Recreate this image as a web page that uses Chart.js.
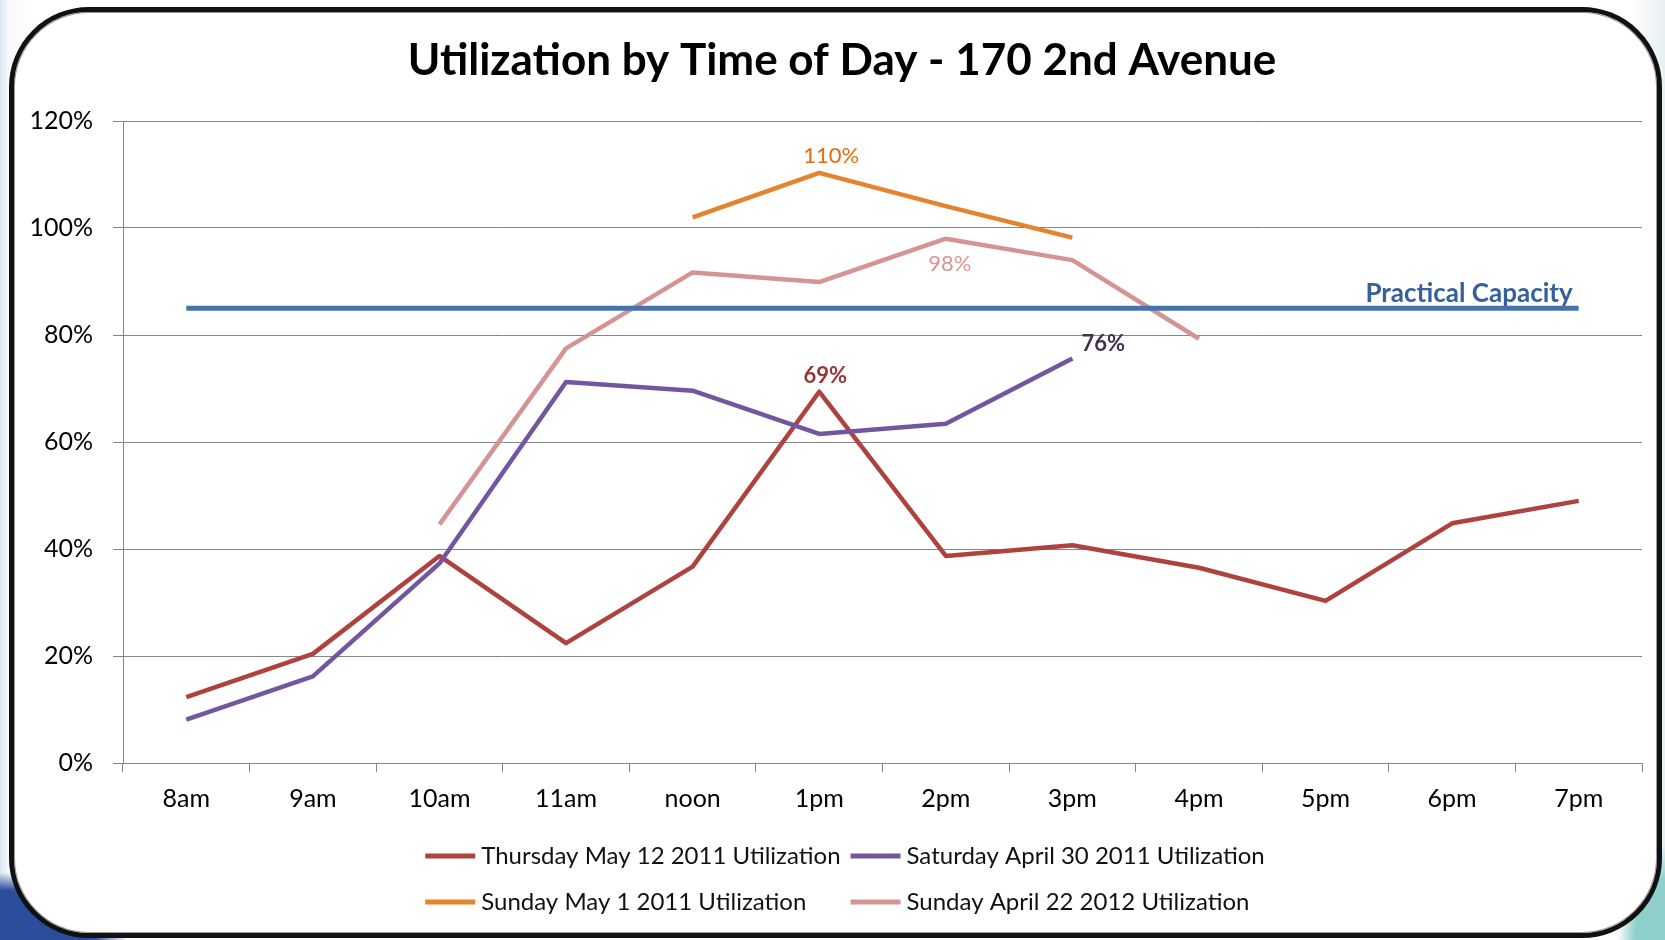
<!DOCTYPE html>
<html>
<head>
<meta charset="utf-8">
<script src="https://cdn.jsdelivr.net/npm/chart.js@4.4.1/dist/chart.umd.min.js"></script>
<style>
html,body{margin:0;padding:0;}
body{width:1665px;height:940px;position:relative;overflow:hidden;
  background:
    radial-gradient(ellipse 170px 90px at 0% 100%,#2a4d9c 0,#2a4d9c 55%,rgba(42,77,156,0) 75%),
    radial-gradient(ellipse 60px 120px at 100% 100%,#8fd0cc 0,#8fd0cc 50%,rgba(143,208,204,0) 80%),
    linear-gradient(90deg,#dce6f0 0,#f7f9fc 9px,#fff 30px,#fff 1630px,#e8f0f4 100%);}
#frame{position:absolute;left:9px;top:7px;width:1643px;height:921px;border:5px solid #111;border-radius:80px;background:#fff;box-shadow:inset 0 0 0 1px #9a9a9a;}
#c{position:absolute;left:0;top:0;}
</style>
</head>
<body>
<div id="frame"></div>
<canvas id="c" width="1665" height="940"></canvas>
<script>
// valores (em %)
const hours=['8am','9am','10am','11am','noon','1pm','2pm','3pm','4pm','5pm','6pm','7pm'];
const thursdayMay12=[12.3,20.4,38.7,22.4,36.7,69.4,38.7,40.7,36.5,30.3,44.8,49.0];
const saturdayApr30=[8.1,16.2,37.3,71.2,69.6,61.5,63.4,75.6,null,null,null,null];
const sundayMay1=[null,null,null,null,102.0,110.3,104.1,98.2,null,null,null,null];
const sundayApr22=[null,null,44.6,77.5,91.7,89.9,98.0,94.0,79.3,null,null,null];
const practicalCapacity=[85,85,85,85,85,85,85,85,85,85,85,85];
const yMin=0, yMax=120, yStep=20;

const TITLE='Utilization by Time of Day - 170 2nd Avenue';
const FONT='Lato';

// rótulos de dados: dataset, ponto, cor, deslocamento
const dataLabels=[
  {ds:1,i:5,color:'#953735',dx:6,dy:-16,bold:true},
  {ds:2,i:7,color:'#3F3151',dx:31,dy:-15,bold:true},
  {ds:3,i:5,color:'#E46C0A',dx:12,dy:-17,bold:false},
  {ds:4,i:6,color:'#D99694',dx:4,dy:25,bold:false},
];

// título desenhado à mão: o plugin de título centraliza pela largura do layout
const titlePlugin={id:'titlePlugin',afterDraw(ch){
  const ctx=ch.ctx;
  ctx.save();
  ctx.font='bold 44px '+FONT;
  ctx.fillStyle='#000';ctx.textAlign='center';ctx.textBaseline='middle';
  ctx.fillText(TITLE,842,61);
  ctx.restore();
}};

const labelPlugin={id:'labelPlugin',afterDatasetsDraw(ch){
  const ctx=ch.ctx;
  ctx.save();
  ctx.textAlign='center';ctx.textBaseline='middle';
  dataLabels.forEach(l=>{
    const p=ch.getDatasetMeta(l.ds).data[l.i];
    const v=ch.data.datasets[l.ds].data[l.i];
    ctx.font=(l.bold?'bold ':'')+'22px '+FONT;
    ctx.fillStyle=l.color;
    ctx.fillText(Math.round(v)+'%',p.x+l.dx,p.y+l.dy);
  });
  // rótulo da capacidade prática no fim da linha
  const cap=ch.getDatasetMeta(0).data;
  const last=cap[cap.length-1];
  ctx.font='bold 26px '+FONT;
  ctx.fillStyle='#35609A';
  ctx.textAlign='right';
  ctx.fillText('Practical Capacity',last.x-6,last.y-15);
  ctx.restore();
}};

// legenda em grade (2 colunas alinhadas)
const gridLegend={id:'gridLegend',afterDraw(ch){
  const {ctx,chartArea}=ch;
  const items=ch.data.datasets.filter(d=>!d.noLegend);
  ctx.save();
  ctx.font='24px '+FONT;
  const lineLen=50,gap=6,colGap=10;
  const w=k=>ctx.measureText(items[k].label).width;
  const col1=Math.max(w(0),w(2)), col2=Math.max(w(1),w(3));
  const total=lineLen+gap+col1+colGap+lineLen+gap+col2;
  const x0=845-total/2, x1=x0+lineLen+gap+col1+colGap;
  const rows=[chartArea.bottom+93,chartArea.bottom+139];
  items.forEach((d,k)=>{
    const x=k%2?x1:x0, y=rows[Math.floor(k/2)];
    ctx.strokeStyle=d.borderColor;ctx.lineWidth=5;ctx.lineCap='butt';
    ctx.beginPath();ctx.moveTo(x,y);ctx.lineTo(x+lineLen,y);ctx.stroke();
    ctx.fillStyle='#111';ctx.textAlign='left';ctx.textBaseline='middle';
    ctx.fillText(d.label,x+lineLen+gap,y);
  });
  ctx.restore();
}};

new Chart(document.getElementById('c'),{
  type:'line',
  data:{labels:hours,datasets:[
    {label:'Practical Capacity',data:practicalCapacity,borderColor:'#4672AE',borderWidth:5,order:0,noLegend:true},
    {label:'Thursday May 12 2011 Utilization',data:thursdayMay12,borderColor:'#AD423F',order:2},
    {label:'Saturday April 30 2011 Utilization',data:saturdayApr30,borderColor:'#7356A0',order:1},
    {label:'Sunday May 1 2011 Utilization',data:sundayMay1,borderColor:'#E4842F',order:1},
    {label:'Sunday April 22 2012 Utilization',data:sundayApr22,borderColor:'#D59494',order:1},
  ]},
  options:{
    responsive:false,animation:false,
    layout:{padding:{left:28,right:23,top:121,bottom:117}},
    elements:{line:{borderWidth:4.5,tension:0,borderCapStyle:'butt',borderJoinStyle:'round'},point:{radius:0,hoverRadius:0}},
    plugins:{legend:{display:false},tooltip:{enabled:false},title:{display:false}},
    scales:{
      x:{offset:true,
        grid:{offset:true,drawOnChartArea:false,drawTicks:true,tickLength:9,color:'#868686'},
        border:{color:'#868686'},
        ticks:{color:'#000',font:{family:FONT,size:25},padding:12,maxRotation:0,autoSkip:false},
        afterFit(s){s.height=60;}},
      y:{min:yMin,max:yMax,
        grid:{color:'#868686',tickLength:10},
        border:{color:'#868686'},
        ticks:{stepSize:yStep,color:'#000',font:{family:FONT,size:25},padding:20,callback:v=>v+'%'},
        afterFit(s){s.width=95;}}
    }
  },
  plugins:[labelPlugin,gridLegend,titlePlugin]
});
</script>
</body>
</html>
